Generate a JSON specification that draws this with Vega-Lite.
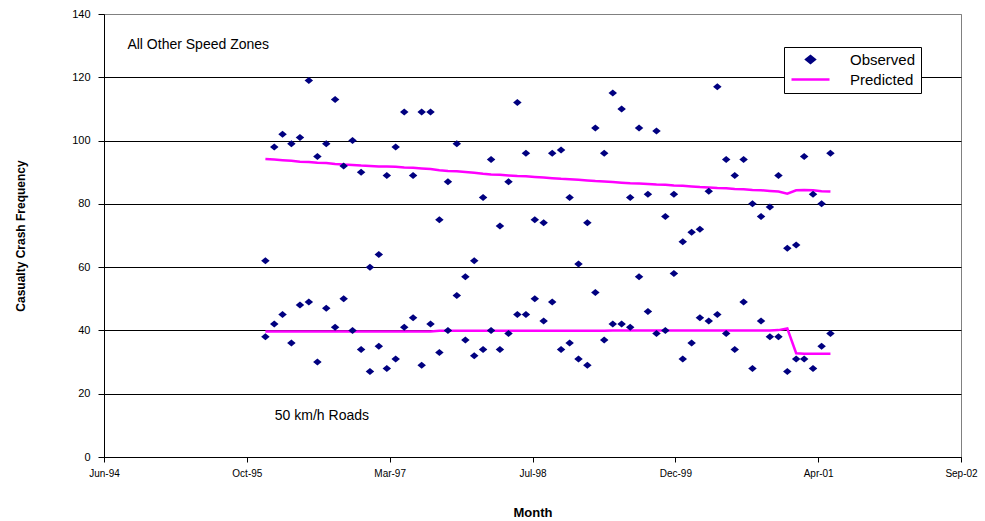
{
  "$schema": "https://vega.github.io/schema/vega-lite/v6.json",
  "width": 857,
  "height": 443,
  "autosize": {"type": "none"},
  "padding": {"left": 104, "top": 14, "right": 24, "bottom": 64},
  "background": "white",
  "config": {
    "view": {"stroke": "#808080", "strokeWidth": 1},
    "font": "Liberation Sans",
    "axis": {
      "labelFont": "Liberation Sans",
      "titleFont": "Liberation Sans",
      "labelColor": "black",
      "titleColor": "black",
      "domainColor": "black",
      "tickColor": "black",
      "titleFontWeight": "bold"
    }
  },
  "data": {
    "values": [
      {"month": "1996-01-01", "obsA": 62, "obsB": 38, "predA": 94.2, "predB": 39.7},
      {"month": "1996-02-01", "obsA": 98, "obsB": 42, "predA": 94.0, "predB": 39.7},
      {"month": "1996-03-01", "obsA": 102, "obsB": 45, "predA": 93.8, "predB": 39.7},
      {"month": "1996-04-01", "obsA": 99, "obsB": 36, "predA": 93.6, "predB": 39.7},
      {"month": "1996-05-01", "obsA": 101, "obsB": 48, "predA": 93.3, "predB": 39.7},
      {"month": "1996-06-01", "obsA": 119, "obsB": 49, "predA": 93.2, "predB": 39.7},
      {"month": "1996-07-01", "obsA": 95, "obsB": 30, "predA": 93.0, "predB": 39.7},
      {"month": "1996-08-01", "obsA": 99, "obsB": 47, "predA": 92.9, "predB": 39.7},
      {"month": "1996-09-01", "obsA": 113, "obsB": 41, "predA": 92.6, "predB": 39.7},
      {"month": "1996-10-01", "obsA": 92, "obsB": 50, "predA": 92.4, "predB": 39.7},
      {"month": "1996-11-01", "obsA": 100, "obsB": 40, "predA": 92.3, "predB": 39.7},
      {"month": "1996-12-01", "obsA": 90, "obsB": 34, "predA": 92.1, "predB": 39.7},
      {"month": "1997-01-01", "obsA": 60, "obsB": 27, "predA": 92.0, "predB": 39.7},
      {"month": "1997-02-01", "obsA": 64, "obsB": 35, "predA": 91.8, "predB": 39.7},
      {"month": "1997-03-01", "obsA": 89, "obsB": 28, "predA": 91.8, "predB": 39.7},
      {"month": "1997-04-01", "obsA": 98, "obsB": 31, "predA": 91.7, "predB": 39.7},
      {"month": "1997-05-01", "obsA": 109, "obsB": 41, "predA": 91.5, "predB": 39.7},
      {"month": "1997-06-01", "obsA": 89, "obsB": 44, "predA": 91.4, "predB": 39.7},
      {"month": "1997-07-01", "obsA": 109, "obsB": 29, "predA": 91.2, "predB": 39.7},
      {"month": "1997-08-01", "obsA": 109, "obsB": 42, "predA": 91.0, "predB": 39.7},
      {"month": "1997-09-01", "obsA": 75, "obsB": 33, "predA": 90.6, "predB": 39.9},
      {"month": "1997-10-01", "obsA": 87, "obsB": 40, "predA": 90.4, "predB": 39.9},
      {"month": "1997-11-01", "obsA": 99, "obsB": 51, "predA": 90.3, "predB": 39.9},
      {"month": "1997-12-01", "obsA": 57, "obsB": 37, "predA": 90.1, "predB": 39.9},
      {"month": "1998-01-01", "obsA": 62, "obsB": 32, "predA": 89.8, "predB": 39.9},
      {"month": "1998-02-01", "obsA": 82, "obsB": 34, "predA": 89.5, "predB": 39.9},
      {"month": "1998-03-01", "obsA": 94, "obsB": 40, "predA": 89.3, "predB": 39.9},
      {"month": "1998-04-01", "obsA": 73, "obsB": 34, "predA": 89.2, "predB": 39.9},
      {"month": "1998-05-01", "obsA": 87, "obsB": 39, "predA": 89.0, "predB": 39.9},
      {"month": "1998-06-01", "obsA": 112, "obsB": 45, "predA": 88.8, "predB": 39.9},
      {"month": "1998-07-01", "obsA": 96, "obsB": 45, "predA": 88.7, "predB": 39.9},
      {"month": "1998-08-01", "obsA": 75, "obsB": 50, "predA": 88.5, "predB": 39.9},
      {"month": "1998-09-01", "obsA": 74, "obsB": 43, "predA": 88.3, "predB": 39.9},
      {"month": "1998-10-01", "obsA": 96, "obsB": 49, "predA": 88.1, "predB": 39.9},
      {"month": "1998-11-01", "obsA": 97, "obsB": 34, "predA": 87.9, "predB": 39.9},
      {"month": "1998-12-01", "obsA": 82, "obsB": 36, "predA": 87.8, "predB": 39.9},
      {"month": "1999-01-01", "obsA": 61, "obsB": 31, "predA": 87.6, "predB": 39.9},
      {"month": "1999-02-01", "obsA": 74, "obsB": 29, "predA": 87.4, "predB": 39.9},
      {"month": "1999-03-01", "obsA": 104, "obsB": 52, "predA": 87.2, "predB": 39.9},
      {"month": "1999-04-01", "obsA": 96, "obsB": 37, "predA": 87.1, "predB": 39.9},
      {"month": "1999-05-01", "obsA": 115, "obsB": 42, "predA": 86.9, "predB": 40.0},
      {"month": "1999-06-01", "obsA": 110, "obsB": 42, "predA": 86.7, "predB": 40.0},
      {"month": "1999-07-01", "obsA": 82, "obsB": 41, "predA": 86.5, "predB": 40.0},
      {"month": "1999-08-01", "obsA": 104, "obsB": 57, "predA": 86.4, "predB": 40.0},
      {"month": "1999-09-01", "obsA": 83, "obsB": 46, "predA": 86.3, "predB": 40.0},
      {"month": "1999-10-01", "obsA": 103, "obsB": 39, "predA": 86.1, "predB": 40.0},
      {"month": "1999-11-01", "obsA": 76, "obsB": 40, "predA": 86.0, "predB": 40.0},
      {"month": "1999-12-01", "obsA": 83, "obsB": 58, "predA": 85.8, "predB": 40.0},
      {"month": "2000-01-01", "obsA": 68, "obsB": 31, "predA": 85.7, "predB": 40.0},
      {"month": "2000-02-01", "obsA": 71, "obsB": 36, "predA": 85.5, "predB": 40.0},
      {"month": "2000-03-01", "obsA": 72, "obsB": 44, "predA": 85.3, "predB": 40.0},
      {"month": "2000-04-01", "obsA": 84, "obsB": 43, "predA": 85.2, "predB": 40.0},
      {"month": "2000-05-01", "obsA": 117, "obsB": 45, "predA": 85.0, "predB": 40.0},
      {"month": "2000-06-01", "obsA": 94, "obsB": 39, "predA": 84.9, "predB": 40.0},
      {"month": "2000-07-01", "obsA": 89, "obsB": 34, "predA": 84.7, "predB": 40.0},
      {"month": "2000-08-01", "obsA": 94, "obsB": 49, "predA": 84.6, "predB": 40.0},
      {"month": "2000-09-01", "obsA": 80, "obsB": 28, "predA": 84.4, "predB": 40.0},
      {"month": "2000-10-01", "obsA": 76, "obsB": 43, "predA": 84.3, "predB": 40.0},
      {"month": "2000-11-01", "obsA": 79, "obsB": 38, "predA": 84.1, "predB": 40.0},
      {"month": "2000-12-01", "obsA": 89, "obsB": 38, "predA": 83.9, "predB": 40.1},
      {"month": "2001-01-01", "obsA": 66, "obsB": 27, "predA": 83.2, "predB": 40.6},
      {"month": "2001-02-01", "obsA": 67, "obsB": 31, "predA": 84.3, "predB": 32.8},
      {"month": "2001-03-01", "obsA": 95, "obsB": 31, "predA": 84.4, "predB": 32.6},
      {"month": "2001-04-01", "obsA": 83, "obsB": 28, "predA": 84.3, "predB": 32.6},
      {"month": "2001-05-01", "obsA": 80, "obsB": 35, "predA": 84.0, "predB": 32.6},
      {"month": "2001-06-01", "obsA": 96, "obsB": 39, "predA": 83.9, "predB": 32.6}
    ]
  },
  "layer": [
    {
      "transform": [{"fold": ["predA", "predB"], "as": ["zone", "value"]}],
      "mark": {"type": "line", "strokeWidth": 2.5},
      "encoding": {
        "x": {
          "field": "month",
          "type": "temporal",
          "scale": {
            "type": "utc",
            "nice": false,
            "domain": [
              {"year": 1994, "month": 6, "date": 15, "utc": true},
              {"year": 2002, "month": 9, "date": 1, "utc": true}
            ]
          },
          "axis": {
            "title": "Month",
            "values": [
              {"year": 1994, "month": 6, "date": 15, "utc": true},
              {"year": 1995, "month": 10, "date": 28, "utc": true},
              {"year": 1997, "month": 3, "date": 11, "utc": true},
              {"year": 1998, "month": 7, "date": 24, "utc": true},
              {"year": 1999, "month": 12, "date": 6, "utc": true},
              {"year": 2001, "month": 4, "date": 19, "utc": true},
              {"year": 2002, "month": 9, "date": 1, "utc": true}
            ],
            "labelExpr": "utcFormat(datum.value, '%b-%y')",
            "grid": false,
            "labelFlush": false,
            "labelOverlap": false,
            "tickSize": 5,
            "labelPadding": 6,
            "labelFontSize": 10,
            "titleFontSize": 13,
            "titlePadding": 28
          }
        },
        "y": {
          "field": "value",
          "type": "quantitative",
          "scale": {"domain": [0, 140], "nice": false},
          "axis": {
            "title": "Casualty Crash Frequency",
            "values": [0, 20, 40, 60, 80, 100, 120, 140],
            "grid": true,
            "gridColor": {"condition": {"test": "datum.value === 140", "value": "#808080"}, "value": "black"},
            "gridWidth": 1,
            "tickSize": 6,
            "labelPadding": 8,
            "labelFontSize": 11,
            "titleFontSize": 12,
            "titlePadding": 44
          }
        },
        "color": {
          "datum": "Predicted",
          "type": "nominal",
          "scale": {"domain": ["Observed", "Predicted"], "range": ["#000080", "#FF00FF"]},
          "legend": {
            "title": null,
            "orient": "none",
            "legendX": 680,
            "legendY": 33,
            "padding": 5,
            "strokeColor": "black",
            "fillColor": "white",
            "labelFont": "Liberation Sans",
            "labelFontSize": 15,
            "labelColor": "black",
            "symbolSize": 100,
            "symbolOffset": 14,
            "labelOffset": 32,
            "rowPadding": 4,
            "encode": {
              "symbols": {
                "update": {
                  "stroke": {"signal": "datum.value === 'Predicted' ? '#FF00FF' : 'transparent'"},
                  "fill": {"signal": "datum.value === 'Predicted' ? 'transparent' : '#000080'"},
                  "strokeWidth": {"value": 2.5}
                }
              }
            }
          }
        },
        "detail": {"field": "zone"}
      }
    },
    {
      "transform": [{"fold": ["obsA", "obsB"], "as": ["zone", "value"]}],
      "mark": {"type": "point", "filled": true, "size": 100, "opacity": 1},
      "encoding": {
        "x": {"field": "month", "type": "temporal"},
        "y": {"field": "value", "type": "quantitative"},
        "color": {
          "datum": "Observed",
          "type": "nominal",
          "scale": {"domain": ["Observed", "Predicted"], "range": ["#000080", "#FF00FF"]},
          "legend": {
            "title": null,
            "orient": "none",
            "legendX": 680,
            "legendY": 33,
            "padding": 5,
            "strokeColor": "black",
            "fillColor": "white",
            "labelFont": "Liberation Sans",
            "labelFontSize": 15,
            "labelColor": "black",
            "symbolSize": 100,
            "symbolOffset": 14,
            "labelOffset": 32,
            "rowPadding": 4,
            "encode": {
              "symbols": {
                "update": {
                  "stroke": {"signal": "datum.value === 'Predicted' ? '#FF00FF' : 'transparent'"},
                  "fill": {"signal": "datum.value === 'Predicted' ? 'transparent' : '#000080'"},
                  "strokeWidth": {"value": 2.5}
                }
              }
            }
          }
        },
        "shape": {
          "datum": "Observed",
          "type": "nominal",
          "scale": {"domain": ["Observed", "Predicted"], "range": ["M-0.85,0L0,-0.7L0.85,0L0,0.7Z", "M-3.8,0L3.8,0"]},
          "legend": {
            "title": null,
            "orient": "none",
            "legendX": 680,
            "legendY": 33,
            "padding": 5,
            "strokeColor": "black",
            "fillColor": "white",
            "labelFont": "Liberation Sans",
            "labelFontSize": 15,
            "labelColor": "black",
            "symbolSize": 100,
            "symbolOffset": 14,
            "labelOffset": 32,
            "rowPadding": 4,
            "encode": {
              "symbols": {
                "update": {
                  "stroke": {"signal": "datum.value === 'Predicted' ? '#FF00FF' : 'transparent'"},
                  "fill": {"signal": "datum.value === 'Predicted' ? 'transparent' : '#000080'"},
                  "strokeWidth": {"value": 2.5}
                }
              }
            }
          }
        }
      }
    },
    {
      "data": {
        "values": [
          {"month": "1994-09-05", "value": 130.2, "label": "All Other Speed Zones"},
          {"month": "1996-02-03", "value": 12.8, "label": "50 km/h Roads"}
        ]
      },
      "mark": {"type": "text", "align": "left", "baseline": "middle", "font": "Liberation Sans", "fontSize": 14, "color": "black"},
      "encoding": {
        "x": {"field": "month", "type": "temporal"},
        "y": {"field": "value", "type": "quantitative"},
        "text": {"field": "label"}
      }
    }
  ]
}
